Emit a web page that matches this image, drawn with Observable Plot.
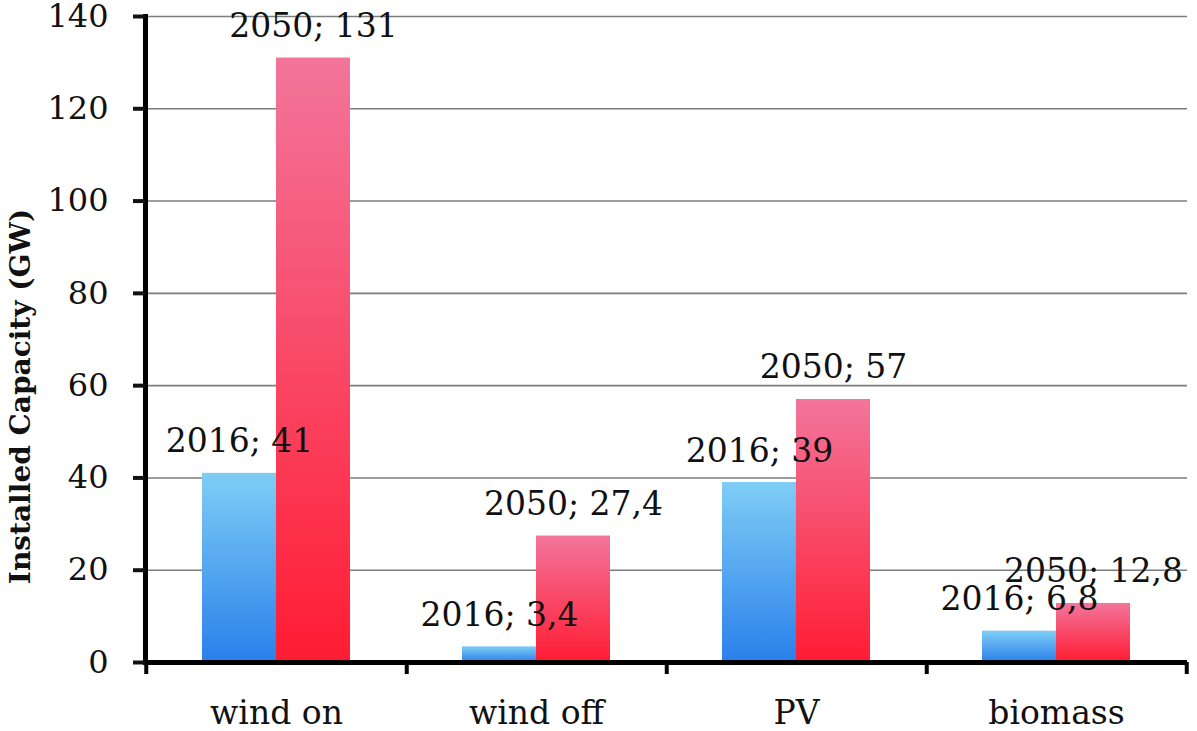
<!DOCTYPE html>
<html>
<head>
<meta charset="utf-8">
<script src="https://cdn.jsdelivr.net/npm/d3@7"></script>
<script src="https://cdn.jsdelivr.net/npm/@observablehq/plot@0.6"></script>
<style>
  html, body { margin: 0; padding: 0; background: #fff; }
  svg { display: block; }
</style>
</head>
<body>
<div id="chart"></div>
<script>
const categories = ["wind on", "wind off", "PV", "biomass"];
const values2016 = [41, 3.4, 39, 6.8];
const values2050 = [131, 27.4, 57, 12.8];
const labels2016 = ["2016; 41", "2016; 3,4", "2016; 39", "2016; 6,8"];
const labels2050 = ["2050; 131", "2050; 27,4", "2050; 57", "2050; 12,8"];
const yTicks = [0, 20, 40, 60, 80, 100, 120, 140];
const yTitle = "Installed Capacity (GW)";

const rows2016 = categories.map((c, i) => ({cat: c, value: values2016[i], label: labels2016[i]}));
const rows2050 = categories.map((c, i) => ({cat: c, value: values2050[i], label: labels2050[i]}));

const W = 1197, H = 731, mL = 145, mR = 10, mT = 16, mB = 69;
const pIn = 0.432, pOut = 0.216;
const step = (W - mL - mR) / (categories.length - pIn + 2 * pOut);
const bw = step * (1 - pIn);
const half = bw / 2;
const font = "'DejaVu Serif', serif";

const chart = Plot.plot({
  width: W, height: H,
  marginLeft: mL, marginRight: mR, marginTop: mT, marginBottom: mB,
  style: {fontFamily: font, fontSize: "32px", color: "#111", background: "#fff"},
  x: {type: "band", domain: categories, paddingInner: pIn, paddingOuter: pOut},
  y: {domain: [0, 140]},
  marks: [
    Plot.ruleY(yTicks.slice(1), {stroke: "#7d7d7d", strokeWidth: 1.6}),
    Plot.barY(rows2016, {x: "cat", y: "value", insetRight: half, fill: "url(#gBlue)"}),
    Plot.barY(rows2050, {x: "cat", y: "value", insetLeft: half, fill: "url(#gRed)"}),
    Plot.text(rows2016, {x: "cat", y: "value", text: "label", dx: -half / 2, dy: -21, lineAnchor: "bottom", fill: "#111", fontSize: 33}),
    Plot.text(rows2050, {x: "cat", y: "value", text: "label", dx: half / 2, dy: -21, lineAnchor: "bottom", fill: "#111", fontSize: 33}),
    Plot.ruleY([0], {stroke: "#000", strokeWidth: 5}),
    Plot.ruleX(categories, {x: d => d, dx: step / 2, y1: 0, y2: -2.6, stroke: "#000", strokeWidth: 4}),
    Plot.ruleX(categories.slice(0, 1), {x: d => d, dx: -step / 2, y1: 0, y2: -2.6, stroke: "#000", strokeWidth: 4}),
    Plot.frame({anchor: "left", stroke: "#000", strokeWidth: 5}),
    Plot.axisY({ticks: yTicks, tickSize: 12, strokeWidth: 4, label: null, tickFormat: () => ""}),
    Plot.text(yTicks, {y: d => d, text: d => String(d), frameAnchor: "left", textAnchor: "end", dx: -37, fontSize: 32, fill: "#111"}),
    Plot.axisX({tickSize: 0, tickPadding: 38, label: null, fontSize: 33}),
    Plot.text([yTitle], {frameAnchor: "left", textAnchor: "middle", rotate: -90, dx: -124, dy: 57, fontWeight: "bold", fontSize: 28, fill: "#111"})
  ]
});

// gradients for the bars
const svgNS = "http://www.w3.org/2000/svg";
const defs = document.createElementNS(svgNS, "defs");
function grad(id, top, bottom) {
  const g = document.createElementNS(svgNS, "linearGradient");
  g.setAttribute("id", id);
  g.setAttribute("x1", "0"); g.setAttribute("y1", "0");
  g.setAttribute("x2", "0"); g.setAttribute("y2", "1");
  [[0, top], [1, bottom]].forEach(([o, c]) => {
    const s = document.createElementNS(svgNS, "stop");
    s.setAttribute("offset", o);
    s.setAttribute("stop-color", c);
    g.appendChild(s);
  });
  defs.appendChild(g);
}
grad("gBlue", "#7fcdf6", "#2a80ea");
grad("gRed", "#f3759b", "#ff1c33");
chart.insertBefore(defs, chart.firstChild);

document.getElementById("chart").appendChild(chart);
</script>
</body>
</html>
